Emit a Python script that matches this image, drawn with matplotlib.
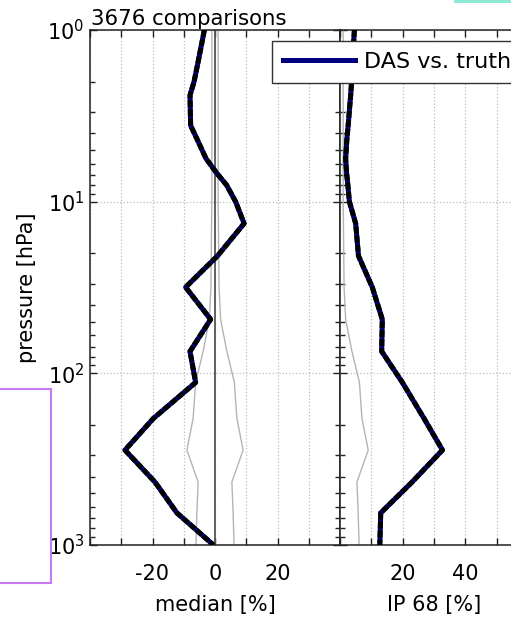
import numpy as np
import matplotlib.pyplot as plt
from matplotlib.lines import Line2D
from matplotlib.patches import Rectangle
from matplotlib.ticker import NullFormatter

plt.rcParams['font.family'] = 'DejaVu Sans'
plt.rcParams['font.size'] = 15

# profile levels [hPa] and statistics [%]
pres = np.array([1, 1.5, 2, 2.4, 3.6, 4.3, 5.6, 6.8, 8, 10, 13.4, 20.7,
                 31.5, 48.5, 74.5, 113, 183, 280, 430, 650, 1000])
median = np.array([-3.4, -5.3, -6.7, -8.0, -7.8, -5.8, -2.9, 0.5, 3.7, 6.6, 9.3, 0.8,
                   -9.4, -1.4, -8.0, -6.2, -19.7, -28.8, -19.2, -12.2, -0.5])
ip68 = np.array([4.6, 4.0, 3.7, 3.4, 2.6, 2.2, 1.8, 2.1, 2.5, 3.0, 5.0, 5.9,
                 10.3, 13.5, 13.3, 19.9, 26.8, 32.7, 23.0, 13.0, 12.7])
# reference envelope (grey)
bound = np.array([1.0, 1.0, 1.0, 1.0, 1.0, 1.0, 1.0, 1.0, 1.0, 1.0, 1.1, 1.2,
                  1.3, 1.8, 3.8, 6.2, 7.0, 9.0, 5.4, 5.8, 6.1])

n_comp = 3676
label = "DAS vs. truth"

med_ticks = np.arange(-40, 41, 10)
med_labels = ['', '', '-20', '', '0', '', '20', '', '']
ip_ticks = np.arange(0, 61, 10)
ip_labels = ['', '', '20', '', '40', '', '']

W, H = 511, 617
fig = plt.figure(figsize=(W / 100, H / 100), dpi=100)
ax1 = fig.add_axes([90 / W, 72 / H, 250 / W, 515 / H])
ax2 = fig.add_axes([340 / W, 72 / H, 188 / W, 515 / H])

navy = '#00007f'
grey = '#b4b4b4'

def profile(ax, x):
    ax.plot(x, pres, color=navy, lw=3.6, solid_capstyle='butt', zorder=4)
    ax.plot(x, pres, color='k', lw=3.6, dashes=(1.4, 0.4), zorder=5)

ax1.plot(-bound, pres, color=grey, lw=1)
ax1.plot(bound, pres, color=grey, lw=1)
ax1.axvline(0, color='#555555', lw=1.3)
profile(ax1, median)

ax2.plot(bound, pres, color=grey, lw=1)
profile(ax2, ip68)

for ax in (ax1, ax2):
    ax.set_yscale('log')
    ax.set_ylim(1000, 1)
    ax.yaxis.set_minor_formatter(NullFormatter())
    ax.grid(True, which='major', linestyle=':', color='#bdbdbd', lw=0.9)
    ax.set_axisbelow(True)
    ax.tick_params(which='both', direction='in', top=True, right=True,
                   color='#222222', width=1)
    ax.tick_params(which='major', length=5)
    ax.tick_params(which='minor', length=3.5)
    ax.tick_params(axis='x', which='both', pad=14, labelsize=15)
    ax.tick_params(axis='y', which='both', pad=4, labelsize=15)
    for s in ax.spines.values():
        s.set_color('#222222')
        s.set_linewidth(1.1)

ax1.set_xlim(-40, 40)
ax1.set_xticks(med_ticks)
ax1.set_xticklabels(med_labels)
ax1.set_xlabel('median [%]')
ax1.xaxis.set_label_coords(0.5, -0.098)
ax1.set_ylabel('pressure [hPa]')
ax1.yaxis.set_label_coords(-0.212, 0.5)

ax2.set_xlim(0, 60)
ax2.set_xticks(ip_ticks)
ax2.set_xticklabels(ip_labels)
ax2.tick_params(labelleft=False)
ax2.set_xlabel('IP 68 [%]')
ax2.xaxis.set_label_coords(0.5, -0.098)

leg = ax2.legend([Line2D([], [], color=navy, lw=3.6)], [label],
                 loc='upper left', bbox_to_anchor=(272 / W, 1 - 41 / H),
                 bbox_transform=fig.transFigure, borderaxespad=0,
                 fancybox=False, framealpha=1, edgecolor='#333333',
                 handlelength=3.25, handletextpad=0.4, borderpad=0.5,
                 fontsize=16)
leg.get_frame().set_linewidth(1.0)
leg.set_zorder(10)

fig.text(91 / W, 1 - 25 / H, f'{n_comp} comparisons', ha='left', va='baseline',
         fontsize=15.3)

# highlight frames
fig.patches.append(Rectangle((454 / W, 1 - 3 / H), 60 / W, 4 / H,
                             transform=fig.transFigure, facecolor='#8fe9d6',
                             edgecolor='none'))
fig.patches.append(Rectangle((-5 / W, 1 - 583 / H), 56 / W, 194 / H,
                             transform=fig.transFigure, fill=False,
                             edgecolor='#c77bf0', lw=1.5))

fig.savefig('out.png', dpi=100)
